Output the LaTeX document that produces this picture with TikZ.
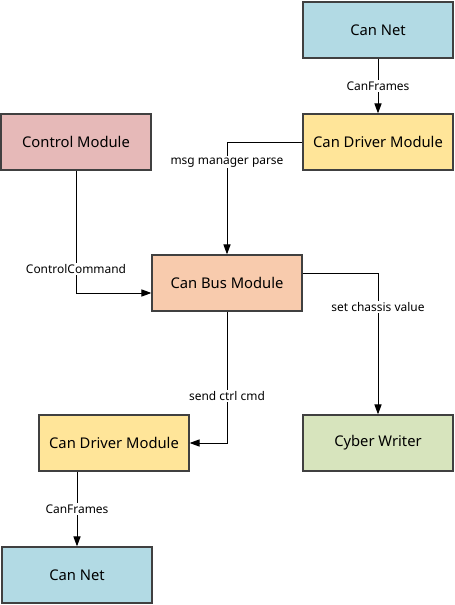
\documentclass[tikz,border=0pt]{standalone}
\usepackage{fontspec}
\setmainfont{Noto Sans}
\usepackage{tikz}
\usetikzlibrary{arrows.meta}

\definecolor{netblue}{RGB}{178,218,228}
\definecolor{drvyellow}{RGB}{255,229,153}
\definecolor{ctrlpink}{RGB}{230,185,184}
\definecolor{buspeach}{RGB}{248,203,173}
\definecolor{writergreen}{RGB}{215,228,189}
\definecolor{edgegray}{RGB}{64,64,64}

\tikzset{
    box/.style={draw=edgegray, line width=0.9pt, minimum width=3.75cm, minimum height=1.4cm,
        font=\fontsize{10.5}{12}\selectfont, inner sep=0pt},
    netbox/.style={box, fill=netblue},
    drvbox/.style={box, fill=drvyellow},
    ctrlbox/.style={box, fill=ctrlpink},
    busbox/.style={box, fill=buspeach},
    writerbox/.style={box, fill=writergreen},
    arr/.style={line width=0.7pt, -{Triangle[length=0.25cm,width=0.18cm]}},
    lbl/.style={fill=white, inner sep=1pt, font=\fontsize{8.5}{10}\selectfont}
}

\begin{document}
\begin{tikzpicture}[x=0.025cm, y=-0.025cm]
    \useasboundingbox (0,0) rectangle (454,605);

    \node[netbox]    (netA)  at (378,30)  {Can Net};
    \node[drvbox]    (drvA)  at (378,142) {Can Driver Module};
    \node[ctrlbox]   (ctrl)  at (76,142)  {Control Module};
    \node[busbox]    (bus)   at (227,283) {Can Bus Module};
    \node[writerbox] (cyber) at (378,443) {Cyber Writer};
    \node[drvbox]    (drvB)  at (114,443) {Can Driver Module};
    \node[netbox]    (netB)  at (77,575)  {Can Net};

    \draw[arr] (netA) -- node[lbl]{CanFrames} (drvA);
    \draw[arr] (drvA.west) -| node[lbl, pos=0.59]{msg manager parse} (bus.north);
    \draw[arr] (ctrl.south) |- node[lbl, pos=0.4]{ControlCommand} ([yshift=-0.25cm]bus.west);
    \draw[arr] ([yshift=0.25cm]bus.east) -| node[lbl, pos=0.62]{set chassis value} (cyber.north);
    \draw[arr] (bus.south) |- node[lbl, pos=0.32]{send ctrl cmd} (drvB.east);
    \draw[arr] (netB.north |- drvB.south) -- node[lbl]{CanFrames} (netB.north);

\end{tikzpicture}
\end{document}
